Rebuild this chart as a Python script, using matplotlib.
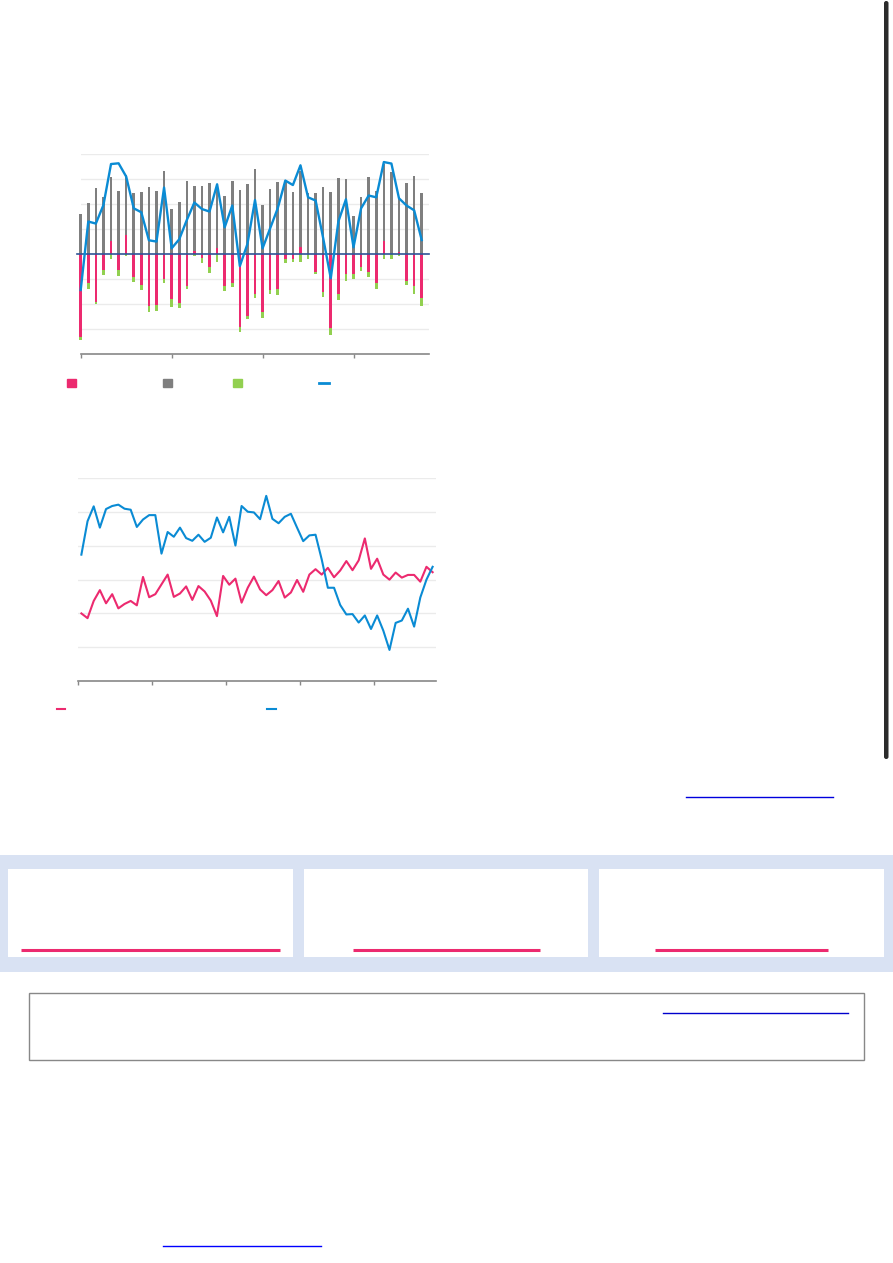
import matplotlib
matplotlib.use("agg")
import matplotlib.pyplot as plt
from matplotlib.patches import Rectangle, FancyBboxPatch
import numpy as np

W, H = 893, 1263

PINK = "#ec2a6f"
GRAY = "#7f7f7f"
GREEN = "#92d050"
BLUE = "#0a8bd4"
NAVY = "#2f5496"
GRID = "#ebebeb"

# chart 1: monthly bars (46 months) + line
gray_vals = [1.61, 2.05, 2.65, 2.28, 3.08, 2.53, 3.16, 2.44, 2.48, 2.68,
             2.55, 3.33, 1.81, 2.09, 2.93, 2.73, 2.75, 2.87, 2.83, 2.32,
             2.95, 2.57, 2.83, 3.41, 1.97, 2.61, 2.91, 2.95, 2.51, 3.35,
             2.44, 2.44, 2.68, 2.51, 3.04, 3.01, 1.53, 2.28, 3.08, 2.55,
             3.60, 3.30, 2.30, 2.84, 3.13, 2.44]
pink_vals = [-3.32, -1.16, -1.92, -0.63, 0.52, -0.63, 0.78, -0.92, -1.23, -2.07,
             -2.03, -0.99, -1.80, -1.93, -1.25, 0.13, -0.15, -0.52, 0.27, -1.25,
             -1.16, -2.92, -2.47, -1.57, -2.31, -1.43, -1.39, -0.17, -0.20, 0.31,
             0.0, -0.71, -1.49, -2.96, -1.59, -0.79, -0.80, -0.49, -0.71, -1.16,
             0.53, 0.0, 0.10, -1.05, -1.27, -1.76]
green_vals = [-0.11, -0.21, -0.07, -0.20, -0.17, -0.23, -0.07, -0.17, -0.19, -0.23,
              -0.24, -0.17, -0.29, -0.21, -0.12, -0.05, -0.19, -0.24, -0.32, -0.21,
              -0.13, -0.20, -0.13, -0.16, -0.25, -0.15, -0.24, -0.16, -0.10, -0.31,
              -0.19, -0.08, -0.21, -0.27, -0.24, -0.28, -0.20, -0.16, -0.19, -0.23,
              -0.19, -0.19, -0.07, -0.17, -0.32, -0.29]
line1_vals = [-1.43, 1.31, 1.23, 1.97, 3.61, 3.64, 3.11, 1.84, 1.68, 0.56,
              0.51, 2.67, 0.24, 0.60, 1.37, 2.07, 1.81, 1.71, 2.80, 1.08,
              1.95, -0.47, 0.41, 2.17, 0.24, 1.04, 1.84, 2.95, 2.77, 3.56,
              2.28, 2.15, 0.64, -0.96, 1.31, 2.20, 0.28, 1.84, 2.35, 2.28,
              3.69, 3.63, 2.24, 1.95, 1.76, 0.57]

# chart 2: two monthly series (58 months)
blue2_vals = [3.74, 4.73, 5.17, 4.54, 5.09, 5.18, 5.22, 5.10, 5.07, 4.56,
              4.78, 4.91, 4.91, 3.77, 4.41, 4.27, 4.54, 4.23, 4.15, 4.33,
              4.12, 4.24, 4.84, 4.40, 4.86, 4.01, 5.18, 5.01, 4.99, 4.79,
              5.48, 4.80, 4.67, 4.86, 4.95, 4.54, 4.14, 4.31, 4.33, 3.60,
              2.76, 2.76, 2.25, 1.97, 1.98, 1.73, 1.94, 1.54, 1.94, 1.49,
              0.92, 1.72, 1.79, 2.14, 1.61, 2.47, 3.00, 3.38]
pink2_vals = [2.00, 1.86, 2.37, 2.69, 2.30, 2.57, 2.15, 2.28, 2.37, 2.24,
              3.08, 2.48, 2.57, 2.86, 3.15, 2.49, 2.59, 2.80, 2.40, 2.81,
              2.65, 2.38, 1.92, 3.11, 2.85, 3.03, 2.32, 2.76, 3.09, 2.71,
              2.54, 2.69, 2.96, 2.47, 2.62, 2.99, 2.64, 3.15, 3.31, 3.15,
              3.35, 3.07, 3.27, 3.55, 3.28, 3.57, 4.22, 3.32, 3.62, 3.15,
              3.00, 3.21, 3.06, 3.14, 3.14, 2.94, 3.38, 3.22]


def px_axes(fig, left, top, right, bottom):
    return fig.add_axes([left / W, 1 - bottom / H, (right - left) / W, (bottom - top) / H])


def style_axis(ax, grid_ys, ticks):
    for s in ("top", "right", "left"):
        ax.spines[s].set_visible(False)
    ax.spines["bottom"].set_color("#888888")
    ax.spines["bottom"].set_linewidth(1.2)
    ax.set_yticks([])
    ax.set_xticks(ticks)
    ax.tick_params(axis="x", length=3, width=1, color="#888888", labelbottom=False)
    for g in grid_ys:
        ax.axhline(g, color=GRID, lw=1, zorder=0)


fig = plt.figure(figsize=(W / 100, H / 100), dpi=100)

# page decorations in pixel space
bg = fig.add_axes([0, 0, 1, 1])
bg.set_xlim(0, W)
bg.set_ylim(H, 0)
bg.axis("off")
bg.set_zorder(0)

# legend chart 1
bg.add_patch(Rectangle((67, 379), 9, 8, color=PINK))
bg.add_patch(Rectangle((163, 379), 9, 8, color=GRAY))
bg.add_patch(Rectangle((233, 379), 9, 8, color=GREEN))
bg.plot([319, 329], [383, 383], color=BLUE, lw=2)
# legend chart 2
bg.plot([57, 65], [709, 709], color=PINK, lw=1.5)
bg.plot([267, 276], [709, 709], color=BLUE, lw=1.5)

# link underline
bg.plot([686, 833], [797, 797], color="#0000dd", lw=1)

# blue band with cards
bg.add_patch(Rectangle((0, 855), W, 117, color="#d9e2f3", lw=0))
for (l, r), (pl, pr) in zip([(8, 293), (304, 588), (599, 884)],
                            [(21, 280), (353, 540), (655, 828)]):
    bg.add_patch(Rectangle((l, 869), r - l, 88, color="white", lw=0))
    bg.plot([pl, pr], [950, 950], color=PINK, lw=2.2, solid_capstyle="butt")

# bordered box
bg.add_patch(Rectangle((28.5, 992.5), 835, 67, fill=False, ec="#888888", lw=1))
bg.plot([663, 848], [1013, 1013], color="#0000cc", lw=1)

# bottom link
bg.plot([163, 321], [1246, 1246], color="#0000ff", lw=1)

# scrollbar
bg.add_patch(FancyBboxPatch((884, 1), 4.5, 758, boxstyle="round,pad=0,rounding_size=2.2",
                            color="#2b2b2b", lw=0))

# ---- chart 1 ----
ax1 = px_axes(fig, 80.7, 154.3, 429.3, 354.3)
ax1.set_zorder(1)
ax1.patch.set_alpha(0)
x1 = np.arange(len(gray_vals))
gray = np.array(gray_vals)
pink = np.array(pink_vals)
green = np.array(green_vals)
ax1.set_xlim(0, 46)
ax1.set_ylim(-4, 4)
style_axis(ax1, [-3, -2, -1, 1, 2, 3, 4], [0, 12, 24, 36])
bw = 0.34
for b in ax1.bar(x1, gray, width=bw, color=GRAY, zorder=2):
    b.set_clip_on(False)
for b in ax1.bar(x1, pink, width=bw, color=PINK, zorder=3):
    b.set_clip_on(False)
for b in ax1.bar(x1, green, width=bw, bottom=np.minimum(pink, 0), color=GREEN, zorder=3):
    b.set_clip_on(False)
ax1.plot([-0.5, 46], [0, 0], color=NAVY, lw=1.2, zorder=4, clip_on=False)
ax1.plot(x1, line1_vals, color=BLUE, lw=1.7, zorder=5, clip_on=False)

# ---- chart 2 ----
ax2 = px_axes(fig, 78.3, 478.3, 435.7, 681)
ax2.set_zorder(1)
ax2.patch.set_alpha(0)
x2 = np.arange(len(blue2_vals))
ax2.set_xlim(-0.5, 57.5)
ax2.set_ylim(0, 6)
style_axis(ax2, [1, 2, 3, 4, 5, 6], [-0.5, 11.5, 23.5, 35.5, 47.5])
ax2.plot(x2, pink2_vals, color=PINK, lw=1.5, zorder=3)
ax2.plot(x2, blue2_vals, color=BLUE, lw=1.5, zorder=4)

fig.savefig("out.png", dpi=100)
